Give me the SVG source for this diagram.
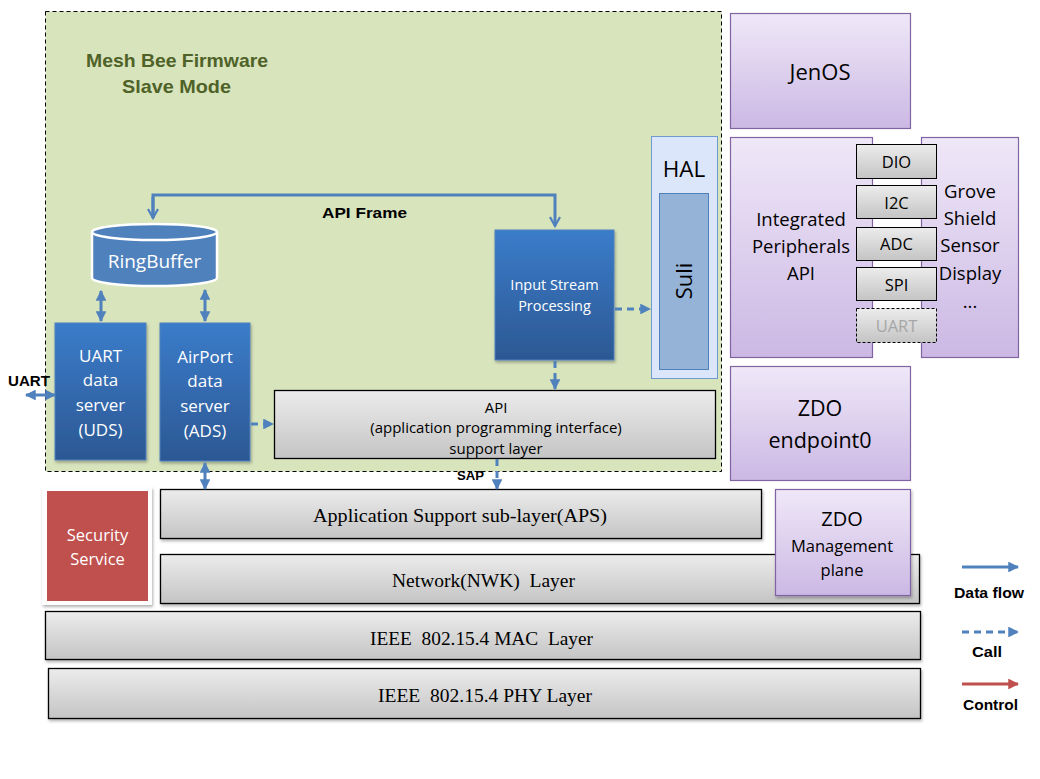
<svg xmlns="http://www.w3.org/2000/svg" width="1040" height="779" viewBox="0 0 1040 779">
<defs>
<style>
.sans{font-family:"Open Sans","Liberation Sans",sans-serif}
.bold{font-family:"Liberation Sans",Arial,sans-serif;font-weight:bold}
.serif{font-family:"Liberation Serif","Times New Roman",serif}
.layer{fill:url(#gray);stroke:#000;stroke-width:1.3}
.purple{fill:url(#purp);stroke:#8064a2;stroke-width:1.2}
.blue{fill:url(#blu);stroke:#4f81bd;stroke-width:1}
.small{fill:url(#gray);stroke:#000;stroke-width:1}
.wt{fill:#fff}
.conn{stroke:#4f81bd;stroke-width:3;fill:none}
.dash{stroke-dasharray:7 5}
</style>
<linearGradient id="gray" x1="0" y1="0" x2="0" y2="1"><stop offset="0" stop-color="#ececec"/><stop offset="1" stop-color="#c4c4c4"/></linearGradient>
<linearGradient id="purp" x1="0" y1="0" x2="0" y2="1"><stop offset="0" stop-color="#efe8f8"/><stop offset="1" stop-color="#ccb8e4"/></linearGradient>
<linearGradient id="blu" x1="0" y1="0" x2="0" y2="1"><stop offset="0" stop-color="#3b7cca"/><stop offset="1" stop-color="#2c5893"/></linearGradient>
<filter id="sh" x="-5%" y="-5%" width="110%" height="120%"><feDropShadow dx="1" dy="2" stdDeviation="1.5" flood-color="#000" flood-opacity="0.3"/></filter>
<marker id="ah" viewBox="0 0 10 10" refX="9" refY="5" markerWidth="3.6" markerHeight="3.6" orient="auto-start-reverse"><path d="M0,0 L10,5 L0,10 z" fill="#4f81bd"/></marker>
<marker id="ahr" viewBox="0 0 10 10" refX="9" refY="5" markerWidth="3.6" markerHeight="3.6" orient="auto"><path d="M0,0 L10,5 L0,10 z" fill="#c0504d"/></marker>
<marker id="chev" viewBox="0 0 12 12" refX="10" refY="6" markerWidth="4" markerHeight="4" orient="auto"><path d="M1,1 L10,6 L1,11" fill="none" stroke="#4f81bd" stroke-width="2.2"/></marker>
</defs>
<rect width="1040" height="779" fill="#fff"/>

<g id="firmware">
<rect x="45.5" y="11.5" width="676" height="460" fill="#d8e4bc" stroke="#000" stroke-width="1" stroke-dasharray="4 3"/>
<text class="bold" x="86" y="67" font-size="18.5" fill="#4f6228" textLength="182" lengthAdjust="spacingAndGlyphs">Mesh Bee Firmware</text>
<text class="bold" x="122" y="93" font-size="18.5" fill="#4f6228" textLength="109" lengthAdjust="spacingAndGlyphs">Slave Mode</text>
</g>

<g id="ringbuffer">
<path d="M92,232 L92,278 A62.5,8 0 0 0 217,278 L217,232" fill="#4f81bd" stroke="#fff" stroke-width="2.5"/>
<ellipse cx="154.5" cy="232" rx="62.5" ry="8" fill="#4f81bd" stroke="#fff" stroke-width="2.5"/>
<text class="sans wt" x="154.5" y="268" font-size="19" text-anchor="middle">RingBuffer</text>
</g>

<g id="uds">
<rect class="blue" x="55" y="323" width="91" height="137" filter="url(#sh)"/>
<text class="sans wt" font-size="17" text-anchor="middle"><tspan x="100.5" y="362">UART</tspan><tspan x="100.5" y="386">data</tspan><tspan x="100.5" y="411">server</tspan><tspan x="100.5" y="436">(UDS)</tspan></text>
</g>

<g id="ads">
<rect class="blue" x="160" y="323" width="90" height="138" filter="url(#sh)"/>
<text class="sans wt" font-size="17" text-anchor="middle"><tspan x="205" y="363">AirPort</tspan><tspan x="205" y="387">data</tspan><tspan x="205" y="412">server</tspan><tspan x="205" y="437">(ADS)</tspan></text>
</g>

<g id="isp">
<rect class="blue" x="495" y="230" width="119" height="130" filter="url(#sh)"/>
<text class="sans wt" font-size="14.5" text-anchor="middle"><tspan x="554.5" y="290">Input Stream</tspan><tspan x="554.5" y="311">Processing</tspan></text>
</g>

<g id="hal">
<rect x="651.5" y="136.5" width="66" height="242" fill="#dce6fa" stroke="#6f9ad0" stroke-width="1"/>
<text class="sans" x="684" y="177" font-size="22.5" text-anchor="middle" fill="#000">HAL</text>
</g>
<g id="suli">
<rect x="659.5" y="193.5" width="49" height="176" fill="#95b3d7" stroke="#4f81bd" stroke-width="1"/>
<text class="sans" x="0" y="0" font-size="22" text-anchor="middle" transform="translate(692,281) rotate(-90)" fill="#000">Suli</text>
</g>

<g id="api">
<rect class="layer" x="274.5" y="390.5" width="441" height="68"/>
<text class="sans" font-size="15" text-anchor="middle" fill="#000"><tspan x="496" y="413">API</tspan><tspan x="496" y="433">(application programming interface)</tspan><tspan x="496" y="454">support layer</tspan></text>
</g>

<g id="jenos">
<rect class="purple" x="730.5" y="13.5" width="180" height="115"/>
<text class="sans" x="820" y="80" font-size="22" text-anchor="middle" fill="#000">JenOS</text>
</g>

<g id="integrated">
<rect class="purple" x="730.5" y="137.5" width="142" height="220"/>
<text class="sans" font-size="18.5" text-anchor="middle" fill="#000"><tspan x="801" y="226">Integrated</tspan><tspan x="801" y="253">Peripherals</tspan><tspan x="801" y="280">API</tspan></text>
</g>

<g id="grove">
<rect class="purple" x="921.5" y="137.5" width="97" height="220"/>
<text class="sans" font-size="18.5" text-anchor="middle" fill="#000"><tspan x="970" y="198">Grove</tspan><tspan x="970" y="225">Shield</tspan><tspan x="970" y="252">Sensor</tspan><tspan x="970" y="280">Display</tspan><tspan x="970" y="308">...</tspan></text>
</g>

<g id="dio"><rect class="small" x="856.5" y="144.5" width="80" height="34"/><text class="sans" x="896.5" y="168" font-size="16.5" text-anchor="middle">DIO</text></g>
<g id="i2c"><rect class="small" x="856.5" y="185.5" width="80" height="33"/><text class="sans" x="896.5" y="209" font-size="16.5" text-anchor="middle">I2C</text></g>
<g id="adc"><rect class="small" x="856.5" y="227.5" width="80" height="33"/><text class="sans" x="896.5" y="250" font-size="16.5" text-anchor="middle">ADC</text></g>
<g id="spi"><rect class="small" x="856.5" y="267.5" width="80" height="33"/><text class="sans" x="896.5" y="291" font-size="16.5" text-anchor="middle">SPI</text></g>
<g id="uartp"><rect class="small" x="856.5" y="308.5" width="80" height="34" stroke-dasharray="3 2"/><text class="sans" x="896.5" y="332" font-size="16.5" text-anchor="middle" fill="#a6a6a6">UART</text></g>

<g id="zdo0">
<rect class="purple" x="730.5" y="366.5" width="180" height="114"/>
<text class="sans" font-size="21.5" text-anchor="middle" fill="#000"><tspan x="820" y="416">ZDO</tspan><tspan x="820" y="448">endpoint0</tspan></text>
</g>

<g id="security">
<rect x="42" y="487" width="110" height="118" fill="#fff" filter="url(#sh)"/>
<rect x="47" y="491" width="101" height="110" fill="#c0504d"/>
<text class="sans wt" font-size="16.5" text-anchor="middle"><tspan x="97.5" y="541">Security</tspan><tspan x="97.5" y="565">Service</tspan></text>
</g>

<g id="aps">
<rect class="layer" x="160.5" y="489.5" width="601" height="49" filter="url(#sh)"/>
<text class="serif" x="313" y="522" font-size="19" textLength="294" lengthAdjust="spacingAndGlyphs">Application Support sub-layer(APS)</text>
</g>
<g id="nwk">
<rect class="layer" x="160.5" y="554.5" width="759" height="49" filter="url(#sh)"/>
<text class="serif" x="392" y="587" font-size="19" xml:space="preserve" textLength="183" lengthAdjust="spacingAndGlyphs">Network(NWK)  Layer</text>
</g>
<g id="mac">
<rect class="layer" x="45.5" y="611.5" width="875" height="48" filter="url(#sh)"/>
<text class="serif" x="370" y="645" font-size="19.5" xml:space="preserve" textLength="223" lengthAdjust="spacingAndGlyphs">IEEE  802.15.4 MAC  Layer</text>
</g>
<g id="phy">
<rect class="layer" x="48.5" y="668.5" width="872" height="50" filter="url(#sh)"/>
<text class="serif" x="378" y="702" font-size="19.5" xml:space="preserve" textLength="214" lengthAdjust="spacingAndGlyphs">IEEE  802.15.4 PHY Layer</text>
</g>

<g id="zdomgmt">
<rect class="purple" x="775.5" y="489.5" width="135" height="106" filter="url(#sh)"/>
<text class="sans" x="842" y="526" font-size="20" text-anchor="middle">ZDO</text>
<text class="sans" font-size="16.5" text-anchor="middle"><tspan x="842" y="552">Management</tspan><tspan x="842" y="576">plane</tspan></text>
</g>

<g id="connectors">
<polyline class="conn" points="153,218 153,195 555,195 555,226" marker-end="url(#chev)"/>
<line class="conn" x1="153" y1="197" x2="153" y2="218" marker-end="url(#chev)"/>
<text class="bold" x="322" y="218" font-size="15.5" textLength="85" lengthAdjust="spacingAndGlyphs">API Frame</text>
<line class="conn" x1="101" y1="291" x2="101" y2="321" marker-start="url(#ah)" marker-end="url(#ah)"/>
<line class="conn" x1="205" y1="290" x2="205" y2="321" marker-start="url(#ah)" marker-end="url(#ah)"/>
<line class="conn" x1="26" y1="395" x2="55" y2="395" marker-start="url(#ah)" marker-end="url(#ah)"/>
<text class="bold" x="8" y="386" font-size="15" textLength="42" lengthAdjust="spacingAndGlyphs">UART</text>
<line class="conn dash" x1="251" y1="424" x2="273" y2="424" stroke-dasharray="6 4" marker-end="url(#ah)"/>
<line class="conn dash" x1="615" y1="309" x2="650" y2="309" marker-end="url(#ah)"/>
<line class="conn dash" x1="555" y1="361" x2="555" y2="389" stroke-dasharray="6 4" marker-end="url(#ah)"/>
<line class="conn dash" x1="497" y1="459" x2="497" y2="489" stroke-dasharray="6 4" marker-end="url(#ah)"/>
<text class="bold" x="457" y="480" font-size="13" textLength="27" lengthAdjust="spacingAndGlyphs">SAP</text>
<line class="conn" x1="205" y1="463" x2="205" y2="489" marker-start="url(#ah)" marker-end="url(#ah)"/>

<line class="conn" x1="962" y1="567" x2="1018" y2="567" marker-end="url(#ah)"/>
<text class="bold" x="954" y="598" font-size="14" textLength="70" lengthAdjust="spacingAndGlyphs">Data flow</text>
<line class="conn dash" x1="962" y1="632" x2="1018" y2="632" marker-end="url(#ah)"/>
<text class="bold" x="972" y="657" font-size="14" textLength="30" lengthAdjust="spacingAndGlyphs">Call</text>
<line x1="962" y1="684" x2="1018" y2="684" stroke="#c0504d" stroke-width="3" marker-end="url(#ahr)"/>
<text class="bold" x="963" y="710" font-size="14" textLength="55" lengthAdjust="spacingAndGlyphs">Control</text>
</g>
</svg>
